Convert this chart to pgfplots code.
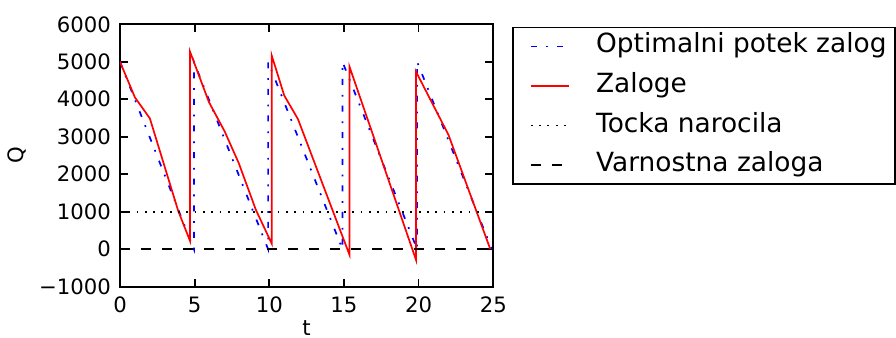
\documentclass[border=0pt]{standalone}
\usepackage{pgfplots}
\pgfplotsset{compat=1.18}
\usepackage{fontspec}
\setmainfont{DejaVu Sans}
\begin{document}
\begin{tikzpicture}
\useasboundingbox (-60pt,-25.65pt) rectangle (388pt,143.35pt);
\begin{axis}[
  scale only axis,
  width=186.65pt, height=131.2pt,
  at={(0pt,0pt)}, anchor=south west,
  xmin=0, xmax=25, ymin=-1000, ymax=6000,
  xtick={0,5,10,15,20,25}, xticklabels={0,5,10,15,20,25},
  ytick={-1000,0,1000,2000,3000,4000,5000,6000},
  yticklabels={−1000,0,1000,2000,3000,4000,5000,6000},
  tick align=inside,
  major tick length=4pt,
  axis line style={line width=0.85pt},
  every tick/.style={black, line width=0.85pt},
  tick label style={font=\fontsize{10.6}{12}\selectfont, inner sep=0pt},
  xticklabel style={anchor=north, yshift=-5pt},
  yticklabel style={anchor=east, xshift=-4.4pt},
  xlabel={t}, ylabel={Q},
  label style={font=\fontsize{10.6}{12}\selectfont},
  xlabel style={at={(axis description cs:0.5,-0.158)}, anchor=center, inner sep=0pt},
  ylabel style={at={(axis description cs:-0.2746,0.5)}, anchor=center, inner sep=0pt},
  legend image code/.code={\path[draw=none,fill=none] (0pt,0pt) -- (37.3pt,0pt); \draw[#1] (4.65pt,0pt) -- (23.8pt,0pt);},
  legend cell align=left,
  legend style={at={(axis description cs:1.0509,0.3876)}, anchor=south west,
    draw=black, line width=0.85pt, inner xsep=4.2pt, inner ysep=3.25pt, row sep=7.4pt,
    font=\fontsize{13.2}{15}\selectfont,
    nodes={inner sep=0pt, text height=9.4pt, text depth=3pt}},
]
\addplot[blue, line width=0.85pt, dash pattern=on 3pt off 4.5pt on 0.9pt off 4.9pt] coordinates {
(0,5000) (4.95,0) (4.95,5000) (9.92,0) (9.92,5000) (14.9,0) (14.9,5000) (19.9,0) (19.9,5000) (24.9,0)
};
\addlegendentry{Optimalni potek zalog}
\addplot[red, line width=0.85pt] coordinates {
(0,5000) (1.0,4050) (2.0,3490) (3.9,1020) (4.69,220) (4.69,5270)
(5.95,3930) (7.0,3150) (7.95,2300) (9.1,1050) (10.16,150) (10.16,5170)
(11.0,4100) (11.92,3470) (15.37,-150) (15.37,4870) (19.82,-280) (19.82,4740)
(22.0,3050) (24.8,0)
};
\addlegendentry{Zaloge}
\addplot[black, line width=0.85pt, dash pattern=on 0.9pt off 3.25pt] coordinates {(0,1000) (25,1000)};
\addlegendentry{Tocka narocila}
\addplot[black, line width=0.85pt, dash pattern=on 5.25pt off 5.25pt] coordinates {(0,0) (25,0)};
\addlegendentry{Varnostna zaloga}
\end{axis}
\end{tikzpicture}
\end{document}
